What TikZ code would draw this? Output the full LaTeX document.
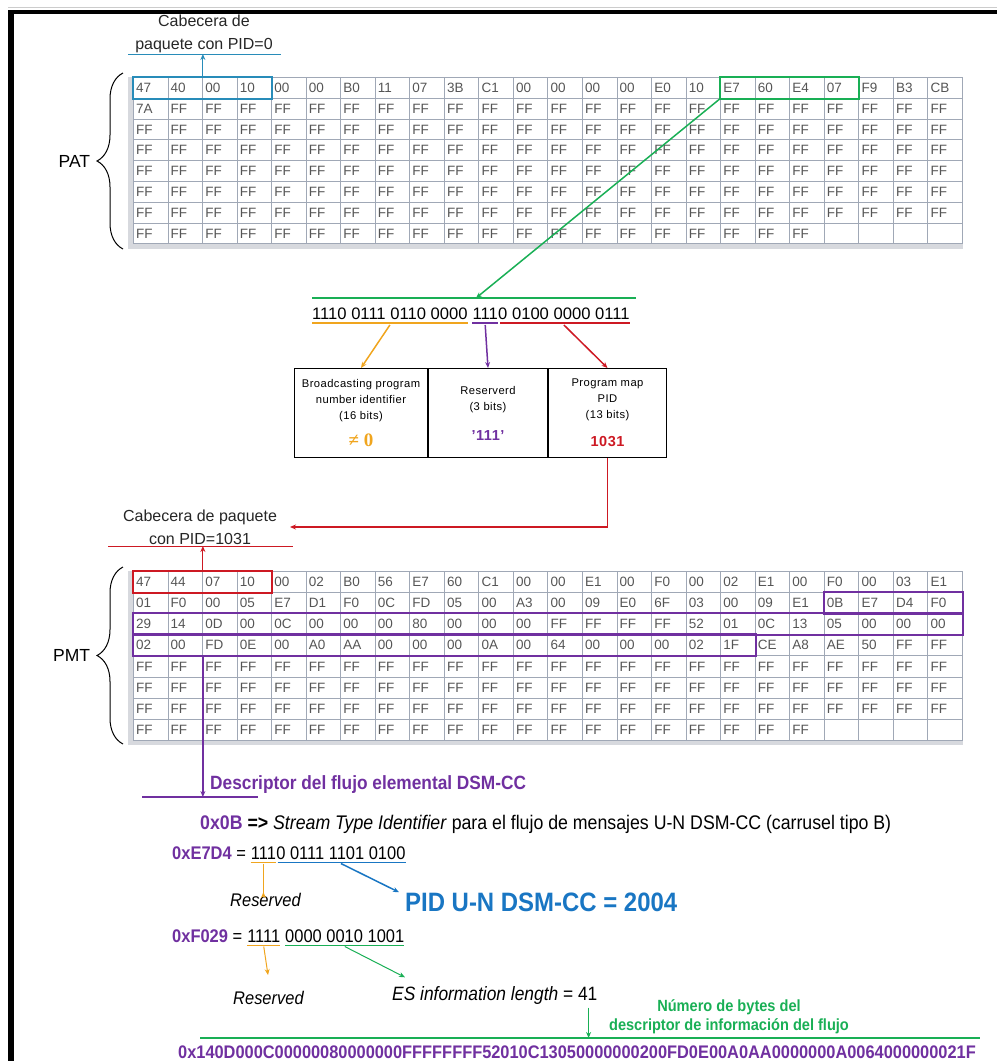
\documentclass[tikz,border=0pt]{standalone}
\usepackage{fontspec}
\setmainfont{Liberation Sans}
\newfontfamily\narrowfont[FakeStretch=0.9]{Liberation Sans}
\newfontfamily\seriffont{Liberation Serif}
\usetikzlibrary{positioning,arrows.meta,decorations.pathreplacing}

\definecolor{gridgray}{RGB}{160,168,182}
\definecolor{cellink}{RGB}{85,85,85}
\definecolor{stripgray}{RGB}{215,217,222}
\definecolor{hdrblue}{RGB}{40,140,185}
\definecolor{pidblue}{RGB}{25,118,195}
\definecolor{grn}{RGB}{25,175,85}
\definecolor{orng}{RGB}{240,165,30}
\definecolor{purp}{RGB}{112,48,160}
\definecolor{redd}{RGB}{205,25,35}

\tikzset{
  cell/.style={draw=gridgray,line width=0.8pt,anchor=north west,minimum width=34.54pt,
    minimum height=#1,inner sep=0pt,text width=29pt,align=left,text=cellink,
    font=\fontsize{13.5}{14}\selectfont},
  hdr/.style={align=center,text=black!85,font=\fontsize{16}{23}\selectfont},
  bin/.style={inner sep=0pt,anchor=base west,font=\fontsize{16.6}{18}\selectfont},
  field/.style={draw,line width=1pt,anchor=north west,minimum width=#1,minimum height=89pt,
    inner sep=0pt,align=center,font=\fontsize{11.2}{16}\selectfont\addfontfeature{LetterSpace=4}},
  narr/.style={inner sep=0pt,anchor=base west,font=\narrowfont\fontsize{18.3}{20}\selectfont},
  tip/.style={-{Stealth[length=6pt,width=5pt]}},
  brc/.style={decorate,decoration={brace,amplitude=26pt},line width=1pt}
}

\begin{document}
\begin{tikzpicture}[x=1pt,y=-1pt]
\useasboundingbox (0,0) rectangle (997,1061);
% frame
\draw[gray!40] (8,7) -- (997,7);
\fill (8,10) rectangle (997,14);
\fill (8,10) rectangle (14,1061);

% PAT table
\fill[stripgray] (128,77) rectangle (133,249);
\fill[stripgray] (128,244) rectangle (963,249);
\foreach \vals [count=\r] in {
  {47,40,00,10,00,00,B0,11,07,3B,C1,00,00,00,00,E0,10,E7,60,E4,07,F9,B3,CB},
  {7A,FF,FF,FF,FF,FF,FF,FF,FF,FF,FF,FF,FF,FF,FF,FF,FF,FF,FF,FF,FF,FF,FF,FF},
  {FF,FF,FF,FF,FF,FF,FF,FF,FF,FF,FF,FF,FF,FF,FF,FF,FF,FF,FF,FF,FF,FF,FF,FF},
  {FF,FF,FF,FF,FF,FF,FF,FF,FF,FF,FF,FF,FF,FF,FF,FF,FF,FF,FF,FF,FF,FF,FF,FF},
  {FF,FF,FF,FF,FF,FF,FF,FF,FF,FF,FF,FF,FF,FF,FF,FF,FF,FF,FF,FF,FF,FF,FF,FF},
  {FF,FF,FF,FF,FF,FF,FF,FF,FF,FF,FF,FF,FF,FF,FF,FF,FF,FF,FF,FF,FF,FF,FF,FF},
  {FF,FF,FF,FF,FF,FF,FF,FF,FF,FF,FF,FF,FF,FF,FF,FF,FF,FF,FF,FF,FF,FF,FF,FF},
  {FF,FF,FF,FF,FF,FF,FF,FF,FF,FF,FF,FF,FF,FF,FF,FF,FF,FF,FF,FF,{},{},{},{}}}
  \foreach \v [count=\c] in \vals
    \node[cell=20.8pt] (pat-\r-\c) at ({133+(\c-1)*34.54},{77+(\r-1)*20.8}) {\v};
\draw[hdrblue,line width=2pt] (pat-1-1.north west) rectangle (pat-1-4.south east);
\draw[grn,line width=2pt] (pat-1-18.north west) rectangle (pat-1-21.south east);
\draw[brc] (123,249) -- (123,73) node[midway,left=29pt,font=\fontsize{17.5}{20}\selectfont] (patlbl) {PAT};

% header of PAT packet
\node[hdr] (hdrpat) at (204,34) {Cabecera de\\paquete con PID=0};
\coordinate (patul-l) at (128,54);
\coordinate (patul-r) at (281,54);
\draw[hdrblue,line width=1pt] (patul-l) -- (patul-r);
\draw[hdrblue,line width=1pt,tip] (pat-1-2.north east) -- (pat-1-2.north east |- patul-l);

% program association bits
\node[bin] (b16) at (312,319) {1110 0111 0110 0000};
\node[bin] (b3) at ([xshift=4.6pt]b16.base east) {111};
\node[bin] (b13) at (b3.base east) {0 0100 0000 0111};
\coordinate (bin-l) at (312,298);
\coordinate (bin-r) at (636,298);
\draw[grn,line width=2pt] (bin-l) -- (bin-r);
\draw[grn,line width=1.5pt,tip] (pat-1-18.south west) -- (476,298);
\draw[orng,line width=2pt] ([yshift=-4pt]b16.base west) -- ([yshift=-4pt]b16.base east);
\draw[purp,line width=2pt] ([yshift=-4pt]b3.base west) -- ([yshift=-4pt]b3.base east);
\draw[redd,line width=2pt] ([xshift=2pt,yshift=-4pt]b13.base west) -- ([yshift=-4pt]b13.base east);

% fields
\node[field=133pt] (fbpn) at (294,368) {Broadcasting program\\number identifier\\(16 bits)\\[11pt]
  {\color{orng}\seriffont\bfseries\fontsize{19}{16}\selectfont ≠ 0}};
\node[field=119pt] (fres) at (fbpn.north east) {Reserverd\\(3 bits)\\[14pt]
  {\color{purp}\bfseries\fontsize{14.5}{14}\selectfont '111'}};
\node[field=118pt] (fpid) at (fres.north east) {Program map\\PID\\(13 bits)\\[12pt]
  {\color{redd}\bfseries\fontsize{14.5}{14}\selectfont 1031}};
\draw[orng,line width=1.5pt,tip] ([yshift=-6pt]b16.base) -- (fbpn.north);
\draw[purp,line width=1.5pt,tip] ([yshift=-6pt]b3.base) -- (fres.north);
\draw[redd,line width=1.5pt,tip] ([yshift=-6pt]b13.base) -- (fpid.north);

% header of PMT packet
\node[hdr] (hdrpmt) at (200,527) {Cabecera de paquete\\con PID=1031};
\coordinate (pmtarr) at (290,527);
\draw[redd,line width=1.5pt,tip] (fpid.south) |- (pmtarr);
\coordinate (pmtul-l) at (108,546);
\coordinate (pmtul-r) at (293,546);
\draw[redd,line width=1pt] (pmtul-l) -- (pmtul-r);

% PMT table
\fill[stripgray] (128,571) rectangle (133,745);
\fill[stripgray] (128,740) rectangle (963,745);
\foreach \vals [count=\r] in {
  {47,44,07,10,00,02,B0,56,E7,60,C1,00,00,E1,00,F0,00,02,E1,00,F0,00,03,E1},
  {01,F0,00,05,E7,D1,F0,0C,FD,05,00,A3,00,09,E0,6F,03,00,09,E1,0B,E7,D4,F0},
  {29,14,0D,00,0C,00,00,00,80,00,00,00,FF,FF,FF,FF,52,01,0C,13,05,00,00,00},
  {02,00,FD,0E,00,A0,AA,00,00,00,0A,00,64,00,00,00,02,1F,CE,A8,AE,50,FF,FF},
  {FF,FF,FF,FF,FF,FF,FF,FF,FF,FF,FF,FF,FF,FF,FF,FF,FF,FF,FF,FF,FF,FF,FF,FF},
  {FF,FF,FF,FF,FF,FF,FF,FF,FF,FF,FF,FF,FF,FF,FF,FF,FF,FF,FF,FF,FF,FF,FF,FF},
  {FF,FF,FF,FF,FF,FF,FF,FF,FF,FF,FF,FF,FF,FF,FF,FF,FF,FF,FF,FF,FF,FF,FF,FF},
  {FF,FF,FF,FF,FF,FF,FF,FF,FF,FF,FF,FF,FF,FF,FF,FF,FF,FF,FF,FF,{},{},{},{}}}
  \foreach \v [count=\c] in \vals
    \node[cell=21.1pt] (pmt-\r-\c) at ({133+(\c-1)*34.54},{571+(\r-1)*21.1}) {\v};
\draw[redd,line width=2pt] (pmt-1-1.north west) rectangle (pmt-1-4.south east);
\draw[purp,line width=2pt] (pmt-2-21.north west) rectangle (pmt-2-24.south east);
\draw[purp,line width=2pt] (pmt-3-1.north west) rectangle (pmt-3-24.south east);
\draw[purp,line width=2pt] (pmt-4-1.north west) rectangle (pmt-4-18.south east);
\draw[redd,line width=1pt,tip] (pmt-1-2.north east) -- (pmt-1-2.north east |- pmtul-l);
\draw[brc] (123,744) -- (123,567) node[midway,left=29pt,font=\fontsize{17.5}{20}\selectfont] (pmtlbl) {PMT};

% elementary stream descriptor
\coordinate (desc-l) at (142,797);
\coordinate (desc-r) at (258,797);
\draw[purp,line width=2pt] (desc-l) -- (desc-r);
\draw[purp,line width=1.5pt,tip] (pmt-4-2.south east) -- (pmt-4-2.south east |- desc-l);
\node[narr,font=\narrowfont\bfseries\fontsize{19.2}{20}\selectfont,text=purp] (desctxt) at (210,789.5)
  {Descriptor del flujo elemental DSM-CC};

\node[narr,font=\narrowfont\fontsize{19.7}{20}\selectfont] (streamtxt) at (200,829.5)
  {\textcolor{purp}{\bfseries 0x0B} \textbf{=>} \textit{Stream Type Identifier} para el flujo de mensajes U-N DSM-CC (carrusel tipo B)};

% 0xE7D4
\node[narr] (e7hex) at (172,859.5) {\textcolor{purp}{\bfseries 0xE7D4} =};
\node[narr] (e7res) at ([xshift=4.6pt]e7hex.base east) {111};
\node[narr] (e7pid) at (e7res.base east) {0 0111 1101 0100};
\draw[orng,line width=1.5pt] ([yshift=-3pt]e7res.base west) -- ([yshift=-3pt]e7res.base east);
\draw[pidblue,line width=1.5pt] ([xshift=1.5pt,yshift=-3pt]e7pid.base west) -- ([yshift=-3pt]e7pid.base east);
\node[narr,font=\narrowfont\itshape\fontsize{18.3}{20}\selectfont] (e7rtxt) at (230,906.5) {Reserved};
\draw[orng,line width=1pt,tip] ([yshift=-4pt]e7res.base) -- ([yshift=-4pt]e7res.base |- e7rtxt.north) -- ++(0,-5);
\node[narr,font=\narrowfont\bfseries\fontsize{26.6}{28}\selectfont,text=pidblue] (pidtxt) at (405,911)
  {PID U-N DSM-CC = 2004};
\draw[pidblue,line width=1.5pt,tip] ([yshift=-4pt]e7pid.base) -- ([xshift=-6pt]pidtxt.north west);

% 0xF029
\node[narr] (f0hex) at (172,942.5) {\textcolor{purp}{\bfseries 0xF029} =};
\node[narr] (f0res) at ([xshift=4.6pt]f0hex.base east) {1111};
\node[narr] (f0len) at ([xshift=4.6pt]f0res.base east) {0000 0010 1001};
\draw[orng,line width=1.5pt] ([yshift=-3pt]f0res.base west) -- ([yshift=-3pt]f0res.base east);
\draw[grn,line width=1.5pt] ([yshift=-3pt]f0len.base west) -- ([yshift=-3pt]f0len.base east);
\node[narr,font=\narrowfont\itshape\fontsize{18.3}{20}\selectfont] (f0rtxt) at (233,1004.5) {Reserved};
\draw[orng,line width=1pt,tip] ([yshift=-4pt]f0res.base) -- (268,975);
\node[narr,font=\narrowfont\fontsize{19.3}{20}\selectfont] (estxt) at (392,1000.5) {\textit{ES information length} = 41};
\draw[grn,line width=1pt,tip] ([yshift=-4pt]f0len.base) -- ([xshift=13pt,yshift=9pt]estxt.north west);

% descriptor bytes
\coordinate (hexl) at (200,1038);
\coordinate (hexr) at (980,1038);
\draw[grn,line width=2pt] (hexl) -- (hexr);
\coordinate (esdn) at ([xshift=-9pt,yshift=-3pt]estxt.south east);
\draw[grn,line width=1pt,tip] (esdn) -- (esdn |- hexl);
\node[align=center,text=grn,font=\narrowfont\bfseries\fontsize{16.2}{19}\selectfont] (nbytes) at (729,1017)
  {Número de bytes del\\descriptor de información del flujo};
\node[narr,font=\narrowfont\bfseries\fontsize{18.2}{20}\selectfont,text=purp] (hexstr) at (178,1058.5)
  {0x140D000C00000080000000FFFFFFFF52010C13050000000200FD0E00A0AA0000000A0064000000021F};
\end{tikzpicture}
\end{document}
